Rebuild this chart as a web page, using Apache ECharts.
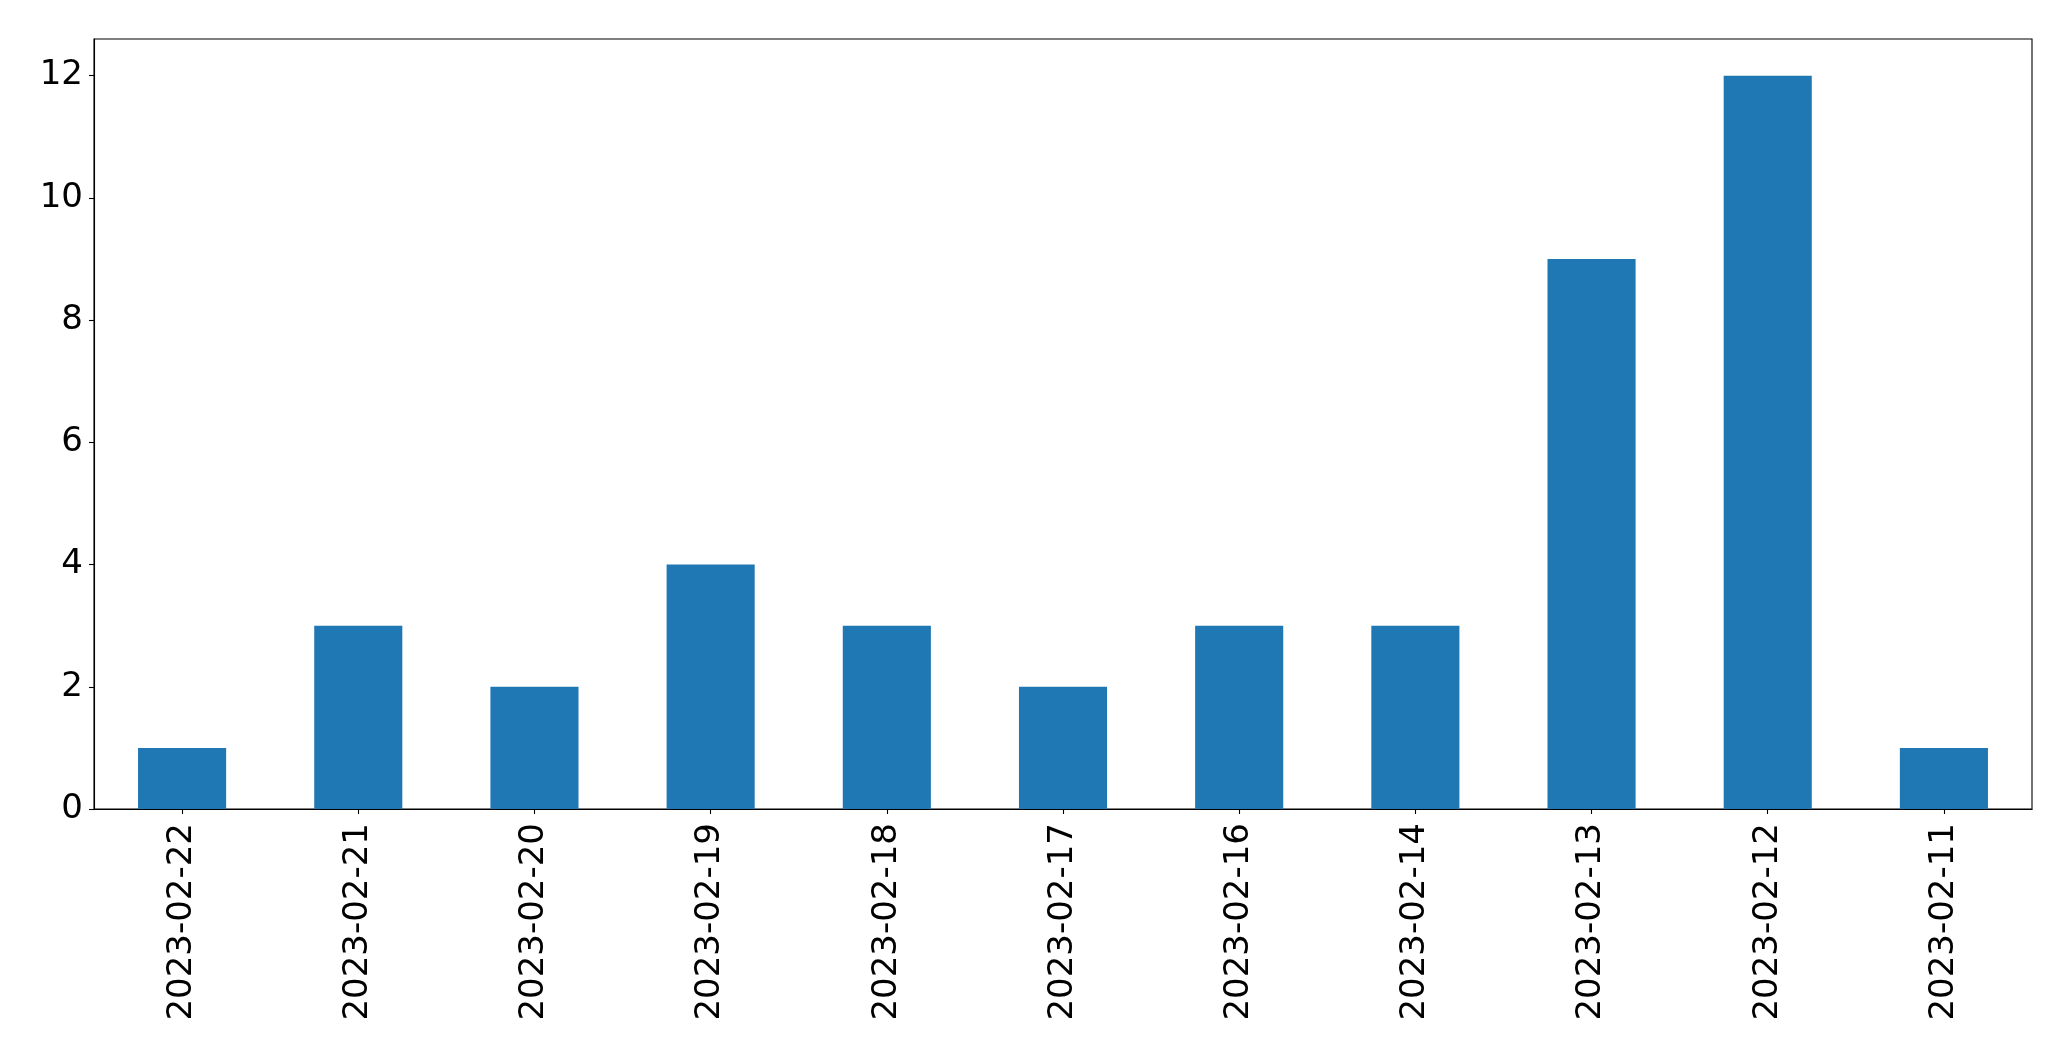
<!DOCTYPE html>
<html>
<head>
<meta charset="utf-8">
<script src="https://cdn.jsdelivr.net/npm/echarts@6/dist/echarts.min.js"></script>
<style>html,body{margin:0;padding:0;background:#fff;}#c{width:2071px;height:1061px;}</style>
</head>
<body>
<div id="c"></div>
<script>
const categories = ['2023-02-22','2023-02-21','2023-02-20','2023-02-19','2023-02-18','2023-02-17','2023-02-16','2023-02-14','2023-02-13','2023-02-12','2023-02-11'];
const counts = [1, 3, 2, 4, 3, 2, 3, 3, 9, 12, 1];
const yTicks = [0, 2, 4, 6, 8, 10, 12];

const chart = echarts.init(document.getElementById('c'), null, {renderer: 'canvas'});
const font = 'DejaVu Sans';
chart.setOption({
  animation: false,
  backgroundColor: '#ffffff',
  grid: {left: 94, right: 39, top: 39, bottom: 252, show: true, borderColor: '#000', borderWidth: 1.1, backgroundColor: 'transparent'},
  xAxis: {
    type: 'category',
    data: categories,
    boundaryGap: true,
    axisLine: {show: true, lineStyle: {color: '#000', width: 1.1}},
    axisTick: {show: true, alignWithLabel: true, length: 5, lineStyle: {color: '#000', width: 1.1}},
    axisLabel: {rotate: 90, margin: 14, fontFamily: font, fontSize: 34, color: '#000', interval: 0}
  },
  yAxis: {
    type: 'value',
    min: 0,
    max: 12.6,
    interval: 2,
    splitLine: {show: false},
    axisLine: {show: true, lineStyle: {color: '#000', width: 1.1}},
    axisTick: {show: true, length: 5, lineStyle: {color: '#000', width: 1.1}, customValues: yTicks},
    axisLabel: {margin: 11, fontFamily: font, fontSize: 34, color: '#000', customValues: yTicks}
  },
  series: [{
    type: 'bar',
    data: counts,
    barWidth: '50%',
    itemStyle: {color: '#1f77b4'}
  }]
});
</script>
</body>
</html>
